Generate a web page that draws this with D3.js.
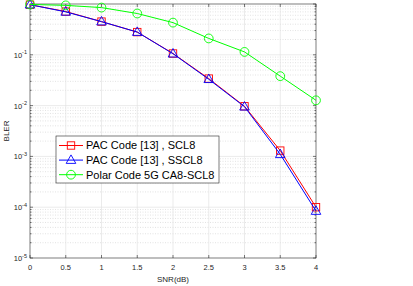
<!DOCTYPE html>
<html>
<head>
<meta charset="utf-8">
<script src="https://cdn.jsdelivr.net/npm/d3@7"></script>
<style>
  body { margin: 0; background: #fff; }
  svg { display: block; font-family: "Liberation Sans", Arial, sans-serif; }
</style>
</head>
<body>
<div id="chart"></div>
<script>
// data
const snr = [0, 0.5, 1, 1.5, 2, 2.5, 3, 3.5, 4];
const pacScl = [0.97, 0.71, 0.45, 0.28, 0.106, 0.034, 0.0097, 0.0013, 0.0001];
const pacSscl = [0.97, 0.70, 0.45, 0.28, 0.105, 0.033, 0.0095, 0.0011, 0.000084];
const polar5g = [0.98, 0.94, 0.85, 0.65, 0.43, 0.21, 0.114, 0.038, 0.0127];
const xTicks = [0, 0.5, 1, 1.5, 2, 2.5, 3, 3.5, 4];
const yExps = [-1, -2, -3, -4, -5];
const legendNames = ["PAC Code [13] , SCL8", "PAC Code [13] , SSCL8", "Polar Code 5G CA8-SCL8"];

const width = 413, height = 286;
const margin = { left: 30, right: 97, top: 4, bottom: 28 };

const svg = d3.select("#chart").append("svg")
  .attr("width", width)
  .attr("height", height);

const x = d3.scaleLinear().domain([0, 4]).range([margin.left, width - margin.right]);
const y = d3.scaleLog().domain([1e-5, 1]).range([height - margin.bottom, margin.top]);

const axisColor = "#262626";

// grid lines
const grid = svg.append("g");
// minor log grid (dotted)
const minorVals = [];
for (let e = -5; e < 0; e++) {
  for (let k = 2; k <= 9; k++) minorVals.push(k * Math.pow(10, e));
}
grid.selectAll("line.minor").data(minorVals).join("line")
  .attr("class", "minor")
  .attr("x1", x(0)).attr("x2", x(4))
  .attr("y1", d => y(d)).attr("y2", d => y(d))
  .attr("stroke", "#d0d0d0").attr("stroke-width", 0.6)
  .attr("stroke-dasharray", "1,1.5");
// major grid
grid.selectAll("line.hy").data(yExps.slice(0, 4).map(e => Math.pow(10, e))).join("line")
  .attr("class", "hy")
  .attr("x1", x(0)).attr("x2", x(4))
  .attr("y1", d => y(d)).attr("y2", d => y(d))
  .attr("stroke", "#e3e3e3").attr("stroke-width", 0.7);
grid.selectAll("line.vx").data(xTicks.slice(1, -1)).join("line")
  .attr("class", "vx")
  .attr("x1", d => x(d)).attr("x2", d => x(d))
  .attr("y1", y(1)).attr("y2", y(1e-5))
  .attr("stroke", "#e3e3e3").attr("stroke-width", 0.7);

// axes box
svg.append("rect")
  .attr("x", x(0)).attr("y", y(1))
  .attr("width", x(4) - x(0)).attr("height", y(1e-5) - y(1))
  .attr("fill", "none").attr("stroke", axisColor).attr("stroke-width", 0.6);

// ticks inside the box
const tk = svg.append("g").attr("stroke", axisColor).attr("stroke-width", 0.6);
xTicks.forEach(v => {
  tk.append("line").attr("x1", x(v)).attr("x2", x(v)).attr("y1", y(1e-5)).attr("y2", y(1e-5) - 3);
  tk.append("line").attr("x1", x(v)).attr("x2", x(v)).attr("y1", y(1)).attr("y2", y(1) + 3);
});
yExps.concat([0]).forEach(e => {
  const v = Math.pow(10, e);
  tk.append("line").attr("x1", x(0)).attr("x2", x(0) + 3).attr("y1", y(v)).attr("y2", y(v));
  tk.append("line").attr("x1", x(4)).attr("x2", x(4) - 3).attr("y1", y(v)).attr("y2", y(v));
});
minorVals.forEach(v => {
  tk.append("line").attr("x1", x(0)).attr("x2", x(0) + 1.6).attr("y1", y(v)).attr("y2", y(v));
  tk.append("line").attr("x1", x(4)).attr("x2", x(4) - 1.6).attr("y1", y(v)).attr("y2", y(v));
});

// tick labels
svg.append("g").selectAll("text").data(xTicks).join("text")
  .attr("x", d => x(d)).attr("y", height - margin.bottom + 12)
  .attr("text-anchor", "middle")
  .attr("font-size", 7.5).attr("fill", axisColor)
  .text(d => d);

const yl = svg.append("g").selectAll("text").data(yExps).join("text")
  .attr("x", x(0) - 3).attr("y", d => y(Math.pow(10, d)) + 3)
  .attr("text-anchor", "end")
  .attr("font-size", 7.5).attr("fill", axisColor);
yl.append("tspan").text("10");
yl.append("tspan").attr("dy", -3.5).attr("font-size", 5.5).text(d => "-" + Math.abs(d));

// axis titles
svg.append("text")
  .attr("x", (x(0) + x(4)) / 2).attr("y", height - 4)
  .attr("text-anchor", "middle").attr("font-size", 8).attr("fill", axisColor)
  .text("SNR(dB)");
svg.append("text")
  .attr("transform", `translate(9,${(y(1) + y(1e-5)) / 2}) rotate(-90)`)
  .attr("text-anchor", "middle").attr("font-size", 8).attr("fill", axisColor)
  .text("BLER");

// series
const series = [
  { vals: pacScl, color: "#ff0000", marker: "square" },
  { vals: pacSscl, color: "#0000ff", marker: "triangle" },
  { vals: polar5g, color: "#00ff00", marker: "circle" }
];

const line = d3.line().x(d => x(d[0])).y(d => y(d[1]));

const drawMarker = (g, type, color, cx, cy) => {
  if (type === "square") {
    g.append("rect").attr("x", cx - 3.7).attr("y", cy - 3.7).attr("width", 7.4).attr("height", 7.4)
      .attr("fill", "none").attr("stroke", color).attr("stroke-width", 0.9);
  } else if (type === "triangle") {
    g.append("path").attr("d", `M${cx},${cy - 5.2}L${cx + 4.8},${cy + 3.3}L${cx - 4.8},${cy + 3.3}Z`)
      .attr("fill", "none").attr("stroke", color).attr("stroke-width", 0.9);
  } else {
    g.append("circle").attr("cx", cx).attr("cy", cy).attr("r", 4.4)
      .attr("fill", "none").attr("stroke", color).attr("stroke-width", 0.9);
  }
};

const plot = svg.append("g");
series.forEach(s => {
  const pts = snr.map((v, i) => [v, s.vals[i]]);
  plot.append("path").datum(pts).attr("d", line)
    .attr("fill", "none").attr("stroke", s.color).attr("stroke-width", 1);
  pts.forEach(p => drawMarker(plot, s.marker, s.color, x(p[0]), y(p[1])));
});

// legend
const lg = svg.append("g");
lg.append("rect").attr("x", 56).attr("y", 136).attr("width", 163).attr("height", 47)
  .attr("fill", "#fff").attr("stroke", axisColor).attr("stroke-width", 0.6);
legendNames.forEach((name, i) => {
  const cy = 145.5 + i * 14.6;
  lg.append("line").attr("x1", 59).attr("x2", 83).attr("y1", cy).attr("y2", cy)
    .attr("stroke", series[i].color).attr("stroke-width", 1);
  drawMarker(lg, series[i].marker, series[i].color, 71, cy);
  lg.append("text").attr("x", 86).attr("y", cy + 3.9)
    .attr("font-size", 11).attr("fill", "#000").text(name);
});
</script>
</body>
</html>
